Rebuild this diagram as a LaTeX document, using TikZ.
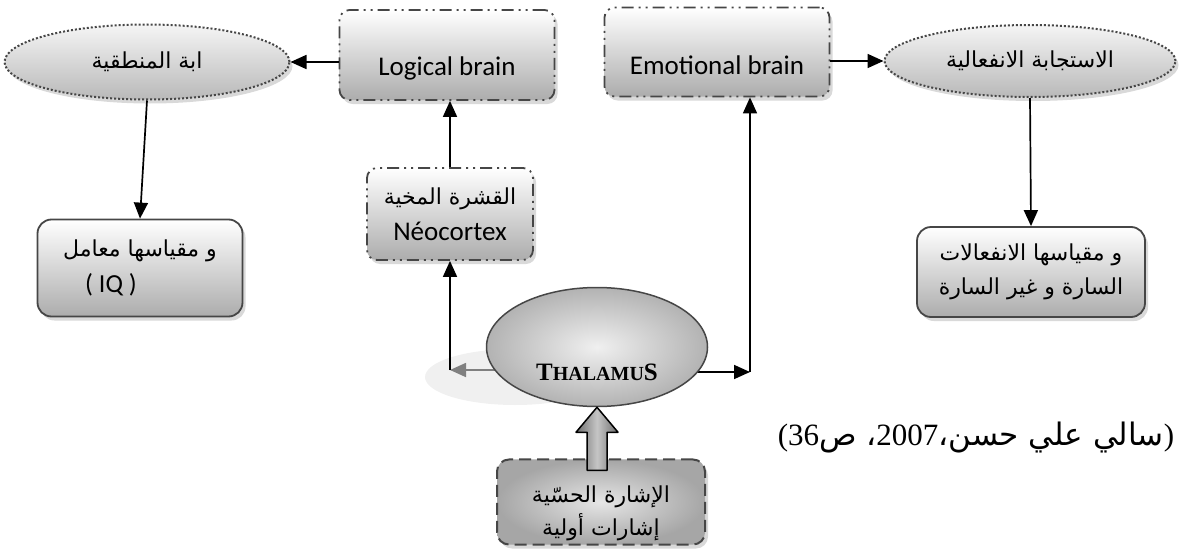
\documentclass[tikz,border=0pt]{standalone}
\usepackage{fontspec}
\setmainfont{Carlito}
\newfontfamily\arabicfont[Script=Arabic]{DejaVu Sans}
\newfontfamily\serfont{Liberation Serif}
\TeXXeTstate=1
\usetikzlibrary{shapes.geometric,shadows,arrows.meta,backgrounds,calc}
\newcommand{\artxt}[1]{{\arabicfont\beginR #1\endR}}
\tikzset{
  arr/.style={line width=1.7pt, -{Triangle[length=16pt,width=14pt]}},
  shadowed/.style={drop shadow={shadow xshift=3pt,shadow yshift=-4pt,opacity=.3}},
  boxbase/.style={rectangle, rounded corners=10pt, top color=white, bottom color=gray!65,
    shadowed, align=center, inner sep=2pt, font=\fontsize{27}{36}\selectfont},
  brainbox/.style={boxbase, draw=gray!55!black, line width=1.8pt,
    dash pattern=on 12pt off 5pt on 2pt off 5pt on 2pt off 5pt},
  measbox/.style={boxbase, draw=gray!55!black, line width=1.8pt, rounded corners=14pt},
  oval/.style={ellipse, draw=gray!55!black, line width=2pt, dotted, inner sep=0pt,
    top color=gray!8, bottom color=gray!55, shadowed, font=\fontsize{22}{28}\selectfont},
}
\begin{document}
\begin{tikzpicture}[x=1pt, y=-1pt, line join=round]
  \useasboundingbox (0,0) rectangle (1193,551);
  % top row
  \node[brainbox, minimum width=215pt, minimum height=90pt] (logic) at (447,55) {\rule{0pt}{46pt}Logical brain};
  \node[brainbox, minimum width=225pt, minimum height=89pt] (emot) at (717,52) {\rule{0pt}{46pt}Emotional brain};
  \node[oval, minimum width=285pt, minimum height=75pt] (lresp) at (147,62) {\artxt{ابة المنطقية}};
  \node[oval, minimum width=291pt, minimum height=72pt] (rresp) at (1030,61) {\artxt{الاستجابة الانفعالية}};
  % measures
  \node[measbox, minimum width=205pt, minimum height=97pt, font=\fontsize{22}{36}\selectfont] (iq) at (140,268)
    {\artxt{و مقياسها معامل}\\{\fontsize{26}{36}\selectfont( IQ )}\hspace*{58pt}};
  \node[measbox, minimum width=228pt, minimum height=90pt, font=\fontsize{22}{34}\selectfont] (joy) at (1031,272)
    {\artxt{و مقياسها الانفعالات}\\\artxt{السارة و غير السارة}};
  % neocortex
  \node[brainbox, minimum width=166pt, minimum height=92pt] (neo) at (450,214)
    {{\fontsize{22}{30}\selectfont\artxt{القشرة المخية}}\\Néocortex};
  % thalamus
  \node[ellipse, draw=gray!55!black, line width=1.5pt, inner color=gray!12, outer color=gray!60,
    minimum width=221pt, minimum height=119pt] (thal) at (597,347) {};
  \node[font=\serfont\bfseries] (thaltxt) at (597,372)
    {{\fontsize{25}{28}\selectfont T}{\fontsize{20}{28}\selectfont HALAMU}{\fontsize{25}{28}\selectfont S}};
  % sensory input
  \node[rectangle, rounded corners=12pt, draw=gray!55!black, line width=2pt, dash pattern=on 12pt off 6pt,
    inner color=gray!20, outer color=gray!70, shadowed, align=center,
    minimum width=208pt, minimum height=85pt, font=\fontsize{22}{33}\selectfont] (sens) at (601,502)
    {\rule{0pt}{40pt}\artxt{الإشارة الحسّية}\\\artxt{إشارات أولية}};
  \coordinate (cl) at (450,370);
  \coordinate (cr) at (750,372);
  % connectors
  \draw[arr] (logic.west |- lresp.east) -- (lresp.east);
  \draw[arr] (lresp.south) -- (iq.north);
  \draw[arr] (emot.east |- rresp.west) -- (rresp.west);
  \draw[arr] (rresp.south) -- (joy.north);
  \draw[arr] (neo.north) -- (neo.north |- logic.south);
  \draw[arr] (cl) -- (neo.south);
  \draw[arr] (cr) -- (cr |- emot.south);
  \begin{scope}[on background layer]
    \fill[gray!12] (515,377) ellipse [x radius=90, y radius=28];
    \draw[arr, gray] (thal.center |- cl) -- (cl);
    \draw[arr] (thal.center |- cr) -- (cr);
  \end{scope}
  % block arrow
  \draw[black, line width=1.5pt, left color=gray!85!black, right color=gray!85!black, middle color=gray!45]
    (thal.south) -- ++(21,25) -- ++(-11,0) -- ++(0,38) -- ++(-20,0) -- ++(0,-38) -- ++(-11,0) -- cycle;
  % source
  \node[font=\fontsize{31}{36}\selectfont] (src) at (976,438)
    {{\serfont(}\artxt{سالي علي حسن،{\serfont\beginL2007\endL}، ص{\serfont\beginL36\endL}}{\serfont)}};
\end{tikzpicture}
\end{document}
